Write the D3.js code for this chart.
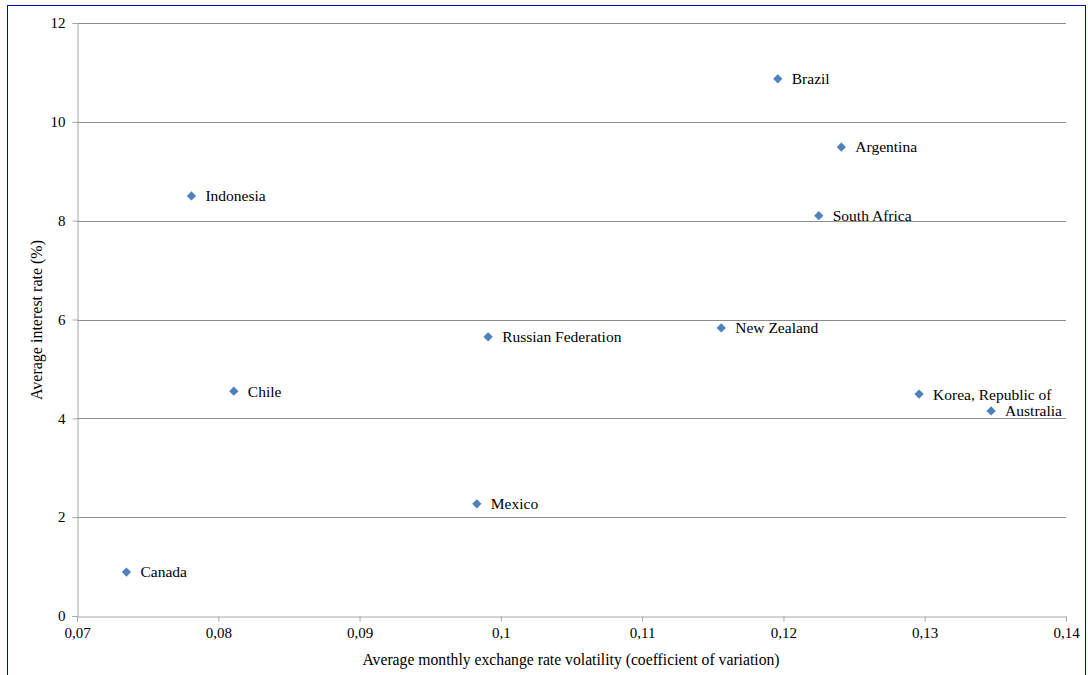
<!DOCTYPE html>
<html>
<head>
<meta charset="utf-8">
<script src="https://cdn.jsdelivr.net/npm/d3@7"></script>
<style>
  body { margin: 0; background: #fff; }
</style>
</head>
<body>
<svg id="chart" width="1088" height="675"></svg>
<script>
// data
const countries = ["Canada", "Indonesia", "Chile", "Mexico", "Russian Federation", "New Zealand",
                   "Brazil", "South Africa", "Argentina", "Korea, Republic of", "Australia"];
const volatility = [0.0735, 0.0781, 0.0811, 0.0983, 0.0991, 0.1156, 0.1196, 0.1225, 0.1241, 0.1296, 0.1347];
const interest = [0.89, 8.50, 4.55, 2.27, 5.65, 5.83, 10.87, 8.10, 9.49, 4.49, 4.15];
const xTicks = [0.07, 0.08, 0.09, 0.1, 0.11, 0.12, 0.13, 0.14];
const yTicks = [0, 2, 4, 6, 8, 10, 12];

const FONT = "'Liberation Serif', 'DejaVu Serif', serif";
const svg = d3.select("#chart");
const plotL = 77, plotR = 1066, plotT = 23, plotB = 616;

// outer frame
svg.append("rect")
    .attr("x", 7.5).attr("y", 5.5)
    .attr("width", 1078).attr("height", 680)
    .attr("fill", "none").attr("stroke", "#0000cc").attr("stroke-width", 1);

const x = d3.scaleLinear().domain([0.07, 0.14]).range([plotL, plotR]);
const y = d3.scaleLinear().domain([0, 12]).range([plotB, plotT]);

// gridlines
svg.append("g").selectAll("line")
    .data(yTicks.filter(d => d > 0))
    .enter().append("line")
    .attr("x1", plotL).attr("x2", plotR)
    .attr("y1", d => Math.round(y(d)) + 0.5).attr("y2", d => Math.round(y(d)) + 0.5)
    .attr("stroke", "#8c8c8c").attr("stroke-width", 1);

const fmt = d => d3.format(".2~f")(d).replace(".", ",");

const xAxis = svg.append("g")
    .attr("transform", `translate(0, ${plotB + 0.5})`)
    .call(d3.axisBottom(x).tickValues(xTicks).tickFormat(fmt).tickSize(5).tickPadding(6));
const yAxis = svg.append("g")
    .attr("transform", `translate(${plotL + 0.5}, 0)`)
    .call(d3.axisLeft(y).tickValues(yTicks).tickSize(5).tickPadding(7));

[xAxis, yAxis].forEach(a => {
    a.attr("font-family", FONT).attr("font-size", 15);
    a.select(".domain").attr("stroke", "#a6a6a6");
    a.selectAll(".tick line").attr("stroke", "#a6a6a6");
    a.selectAll("text").attr("fill", "#000");
});

// points
const diamond = d3.symbol().type(d3.symbolDiamond2).size(55);
const pts = svg.append("g").selectAll("g")
    .data(countries.map((c, i) => ({name: c, vx: volatility[i], vy: interest[i]})))
    .enter().append("g")
    .attr("transform", d => `translate(${x(d.vx)}, ${y(d.vy)})`);

pts.append("path")
    .attr("d", diamond)
    .attr("fill", "#4f81bd");

pts.append("text")
    .attr("x", 14).attr("dy", "0.35em")
    .attr("font-family", FONT)
    .attr("font-size", 15.5)
    .attr("fill", "#000")
    .text(d => d.name);

// axis titles
svg.append("text")
    .attr("x", 571).attr("y", 665)
    .attr("text-anchor", "middle")
    .attr("font-family", FONT)
    .attr("font-size", 15.7)
    .text("Average monthly exchange rate volatility (coefficient of variation)");

svg.append("text")
    .attr("transform", `translate(42, 320) rotate(-90)`)
    .attr("text-anchor", "middle")
    .attr("font-family", FONT)
    .attr("font-size", 16)
    .text("Average interest rate (%)");
</script>
</body>
</html>
